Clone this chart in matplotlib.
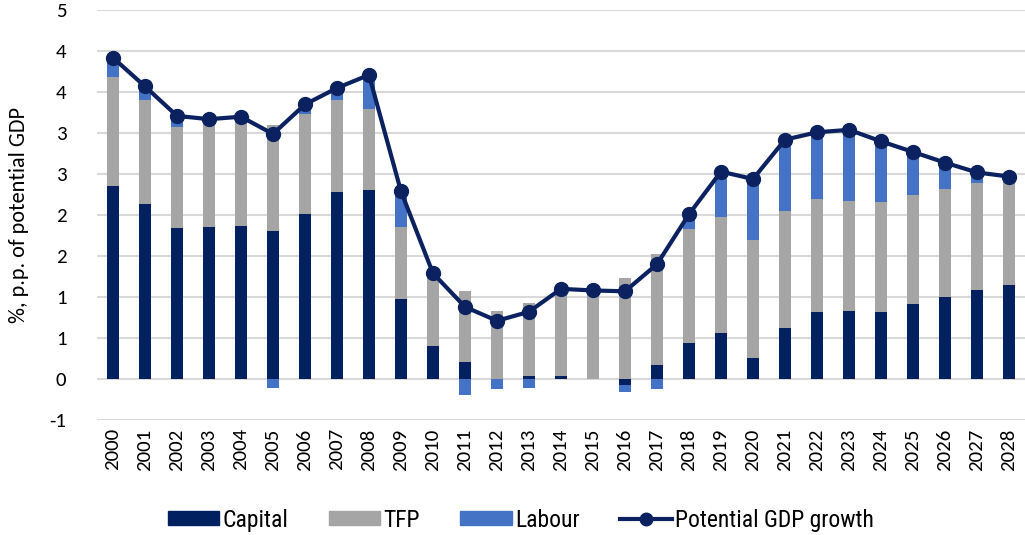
import numpy as np
import matplotlib
matplotlib.use("Agg")
import matplotlib.pyplot as plt
from matplotlib.patches import Patch
from matplotlib.lines import Line2D

years = [str(y) for y in range(2000, 2029)]

capital = [2.36, 2.14, 1.84, 1.86, 1.87, 1.80, 2.01, 2.28, 2.30, 0.97,
           0.40, 0.21, 0.00, 0.04, 0.04, 0.00, -0.07, 0.17, 0.44, 0.56,
           0.26, 0.62, 0.82, 0.83, 0.82, 0.92, 1.00, 1.08, 1.15]
tfp = [1.32, 1.26, 1.24, 1.28, 1.26, 1.30, 1.22, 1.12, 0.99, 0.89,
       0.85, 0.86, 0.83, 0.89, 1.01, 1.05, 1.23, 1.35, 1.39, 1.42,
       1.43, 1.43, 1.38, 1.34, 1.34, 1.32, 1.32, 1.31, 1.28]
labour = [0.24, 0.17, 0.13, 0.03, 0.07, -0.11, 0.12, 0.15, 0.42, 0.43,
          0.04, -0.19, -0.12, -0.11, 0.05, 0.03, -0.09, -0.12, 0.18, 0.55,
          0.75, 0.87, 0.81, 0.87, 0.74, 0.53, 0.32, 0.13, 0.04]
gdp = [3.92, 3.57, 3.21, 3.17, 3.20, 2.99, 3.35, 3.55, 3.71, 2.29,
       1.29, 0.88, 0.71, 0.82, 1.10, 1.08, 1.07, 1.40, 2.01, 2.53,
       2.44, 2.92, 3.01, 3.04, 2.90, 2.77, 2.64, 2.52, 2.47]

ytick_vals = [-0.5, 0, 0.5, 1, 1.5, 2, 2.5, 3, 3.5, 4, 4.5]
ytick_labels = ["-1", "0", "1", "1", "2", "2", "3", "3", "4", "4", "5"]

c_capital = '#002060'
c_tfp = '#a5a5a5'
c_labour = '#4472c4'
c_line = '#0c2260'

plt.rcParams['font.family'] = ['Carlito', 'DejaVu Sans']

fig = plt.figure(figsize=(10.25, 5.35), dpi=100)
ax = fig.add_axes([0.0946, 0.215, 0.9054, 0.766])

x = np.arange(len(years))
width = 0.375

# Excel-style stacking: positives go up, negatives go down separately
pos_bottom = np.zeros(len(years))
neg_bottom = np.zeros(len(years))
for vals, col in [(capital, c_capital), (tfp, c_tfp), (labour, c_labour)]:
    v = np.array(vals)
    bottom = np.where(v >= 0, pos_bottom, neg_bottom)
    ax.bar(x, v, width, bottom=bottom, color=col, zorder=2)
    pos_bottom = pos_bottom + np.where(v >= 0, v, 0)
    neg_bottom = neg_bottom + np.where(v < 0, v, 0)

ax.plot(x, gdp, color=c_line, linewidth=3, marker='o', markersize=10, zorder=3)

ax.set_xlim(-0.5, len(years) - 0.5)
ax.set_ylim(-0.5, 4.5)
ax.set_yticks(ytick_vals)
ax.set_yticklabels(ytick_labels)
ax.set_xticks(x)
ax.set_xticklabels(years, rotation=90)
ax.tick_params(axis='both', length=0, labelsize=15, colors='black')
ax.tick_params(axis='y', pad=22)
ax.tick_params(axis='x', pad=6)
ax.grid(True, axis='y', color='#d9d9d9', linewidth=1.5, zorder=0)
ax.set_axisbelow(True)
for s in ax.spines.values():
    s.set_visible(False)

ax.set_ylabel('%, p.p. of potential GDP', fontsize=16, labelpad=15)

handles = [Patch(color=c_capital, label='Capital'),
           Patch(color=c_tfp, label='TFP'),
           Patch(color=c_labour, label='Labour'),
           Line2D([], [], color=c_line, linewidth=3, marker='o', markersize=9,
                  label='Potential GDP growth')]
fig.legend(handles=handles, loc='center', bbox_to_anchor=(0.508, 0.028), ncol=4,
           frameon=False, prop={'family': ['Roboto Condensed', 'DejaVu Sans'], 'size': 17},
           handlelength=2.2, handleheight=0.55, handletextpad=0.13, columnspacing=1.7)

fig.savefig('out.png', dpi=100)
